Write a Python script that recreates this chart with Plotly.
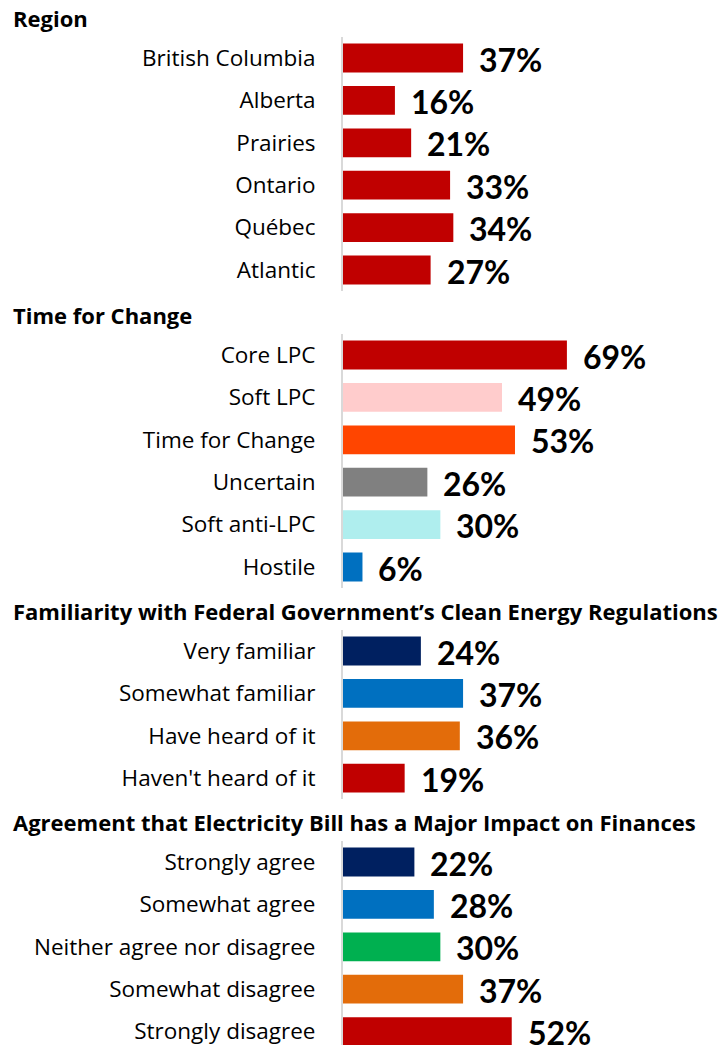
import plotly.graph_objects as go

# data
region_labels = ["British Columbia", "Alberta", "Prairies", "Ontario", "Québec", "Atlantic"]
region_values = [37, 16, 21, 33, 34, 27]
region_colors = ["#C00000"] * 6

tfc_labels = ["Core LPC", "Soft LPC", "Time for Change", "Uncertain", "Soft anti-LPC", "Hostile"]
tfc_values = [69, 49, 53, 26, 30, 6]
tfc_colors = ["#C00000", "#FFCCCC", "#FF4500", "#808080", "#AFEEEE", "#0070C0"]

fam_labels = ["Very familiar", "Somewhat familiar", "Have heard of it", "Haven't heard of it"]
fam_values = [24, 37, 36, 19]
fam_colors = ["#002060", "#0070C0", "#E36C0A", "#C00000"]

agr_labels = ["Strongly agree", "Somewhat agree", "Neither agree nor disagree",
              "Somewhat disagree", "Strongly disagree"]
agr_values = [22, 28, 30, 37, 52]
agr_colors = ["#002060", "#0070C0", "#00B050", "#E36C0A", "#C00000"]

sections = [
    ("Region", region_labels, region_values, region_colors),
    ("Time for Change", tfc_labels, tfc_values, tfc_colors),
    ("Familiarity with Federal Government’s Clean Energy Regulations", fam_labels, fam_values, fam_colors),
    ("Agreement that Electricity Bill has a Major Impact on Finances", agr_labels, agr_values, agr_colors),
]

W, H = 728, 1045
LABEL_FONT = "Open Sans"
VALUE_FONT = "Lato"
PX_PER_CAT = 42.4
# top pixel of each section's plot area, and title pixel y
tops = [36.8, 333.8, 629.8, 840.8]
title_y = [18, 315, 611, 822]
x_left = 343
x_max = (W - x_left) / 3.245

fig = go.Figure()
for i, (title, labels, values, colors) in enumerate(sections):
    n = i + 1
    sfx = "" if n == 1 else str(n)
    top = tops[i]
    bottom = min(top + PX_PER_CAT * len(labels), H)
    ncat = (bottom - top) / PX_PER_CAT
    fig.add_trace(go.Bar(
        x=values, y=labels, orientation="h", marker_color=colors,
        marker_line_width=0, width=0.68,
        xaxis="x" + sfx, yaxis="y" + sfx, hoverinfo="skip",
    ))
    for lab, v in zip(labels, values):
        fig.add_annotation(
            x=v, y=lab, xref="x" + sfx, yref="y" + sfx, text=f"<b>{v}%</b>",
            showarrow=False, xanchor="left", xshift=14, yshift=-1,
            font=dict(family=VALUE_FONT, size=32, color="#000000"),
        )
    fig.add_annotation(
        x=11 / W, y=1 - title_y[i] / H, xref="paper", yref="paper",
        text=f"<b>{title}</b>", showarrow=False, xanchor="left", yanchor="middle",
        font=dict(family=LABEL_FONT, size=22, color="#000000"),
    )
    fig.layout["xaxis" + sfx] = dict(
        domain=[x_left / W, 1], range=[0, x_max], visible=False, anchor="y" + sfx,
    )
    fig.layout["yaxis" + sfx] = dict(
        domain=[1 - bottom / H, 1 - top / H], anchor="x" + sfx,
        type="category", categoryarray=labels,
        range=[-0.5 + ncat, -0.5],
        showline=True, linecolor="#D9D9D9", linewidth=2,
        showgrid=False, zeroline=False, ticks="", ticklabelstandoff=21,
        tickfont=dict(family=LABEL_FONT, size=22.5, color="#000000"),
    )

fig.update_layout(
    width=W, height=H, margin=dict(l=0, r=0, t=0, b=0),
    paper_bgcolor="white", plot_bgcolor="white",
    showlegend=False, font=dict(family=LABEL_FONT),
)
fig.write_html("out.html", config={"displayModeBar": False},
               post_script=["document.body.style.margin='0';"])
